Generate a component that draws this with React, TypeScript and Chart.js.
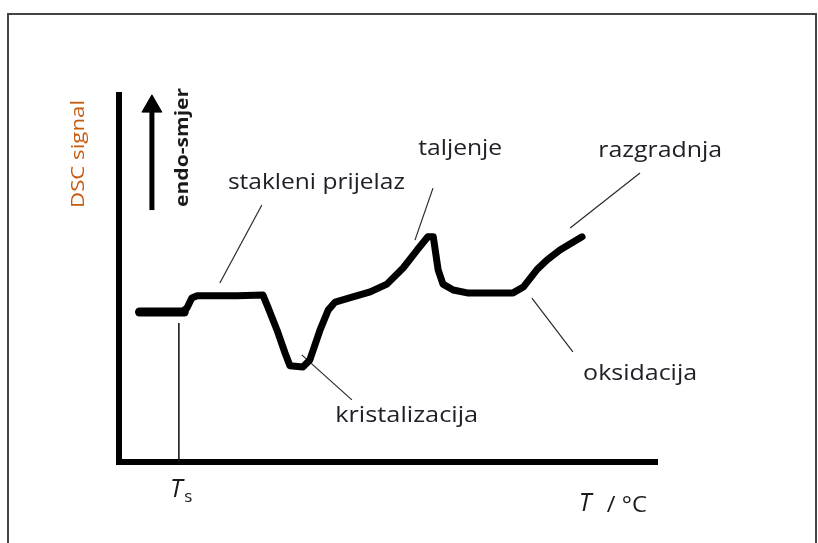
import React, { useEffect, useRef } from "react";
import { Chart, registerables } from "chart.js";

Chart.register(...registerables);

// DSC curve (arbitrary temperature units vs. arbitrary signal units)
const baselineTemperature = [3.9, 12.2];
const baselineSignal = [40.8, 40.8];

const curveTemperature = [
  11.8, 12.7, 13.6, 14.6, 22.0, 26.8, 27.7, 29.4, 30.9, 31.8, 34.2, 35.5, 37.4,
  38.9, 40.2, 43.5, 46.7, 49.8, 52.8, 55.4, 57.4, 58.4, 59.3, 60.2, 62.1, 64.7,
  73.2, 75.1, 77.6, 79.5, 81.9, 86.0,
];
const curveSignal = [
  40.8, 41.9, 44.6, 45.2, 45.2, 45.4, 42.2, 35.9, 29.6, 26.1, 25.8, 27.7, 35.9,
  41.3, 43.5, 44.9, 46.3, 48.4, 52.8, 57.7, 61.3, 61.3, 52.3, 48.4, 46.8, 46.0,
  46.0, 47.6, 52.3, 55.0, 57.7, 61.3,
];

// T_s marker
const tsTemperature = [11.2, 11.2];
const tsSignal = [37.8, 0];

// endo direction arrow
const arrowTemperature = [6.2, 6.2];
const arrowSignal = [68.6, 96.9];

// leader lines: [x1, x2], [y1, y2]
const leaderStaklenT = [26.6, 18.8];
const leaderStaklenS = [70.0, 48.7];
const leaderTaljenjeT = [58.35, 55.0];
const leaderTaljenjeS = [74.6, 60.4];
const leaderRazgradnjaT = [96.75, 83.8];
const leaderRazgradnjaS = [78.7, 63.7];
const leaderOksidacijaT = [76.7, 84.3];
const leaderOksidacijaS = [44.6, 29.9];
const leaderKristalT = [34.0, 43.3];
const leaderKristalS = [29.1, 16.8];

// annotation texts
const labelTexts = ["stakleni prijelaz", "taljenje", "razgradnja", "oksidacija", "kristalizacija"];
const labelTemperature = [20.3, 55.6, 89.0, 86.2, 40.2];
const labelSignal = [74.35, 83.6, 83.1, 22.2, 10.8];
const labelWidths = [177, 84, 124, 114, 143];

const yAxisTitle = "DSC signal";
const arrowTitle = "endo-smjer";
const tsSymbol = ["T", "s"];
const xAxisTitle = ["T", "/ °C"];

const zip = (xs: number[], ys: number[]) => xs.map((x, i) => ({ x, y: ys[i] }));

function fittedText(
  ctx: CanvasRenderingContext2D,
  text: string,
  x: number,
  y: number,
  font: string,
  width: number | null,
  color: string,
  rotate = false
) {
  ctx.save();
  ctx.font = font;
  ctx.fillStyle = color;
  const w = ctx.measureText(text).width;
  const sx = width ? width / w : 1;
  ctx.translate(x, y);
  if (rotate) {
    ctx.rotate(-Math.PI / 2);
    ctx.textAlign = "center";
    ctx.textBaseline = "middle";
  } else {
    ctx.textAlign = "left";
    ctx.textBaseline = "alphabetic";
  }
  ctx.scale(sx, 1);
  ctx.fillText(text, 0, 0);
  ctx.restore();
}

const decorPlugin = {
  id: "dscDecor",
  beforeDraw(chart: any) {
    const { ctx, width, height } = chart;
    ctx.save();
    ctx.fillStyle = "#ffffff";
    ctx.fillRect(0, 0, width, height);
    ctx.strokeStyle = "#444444";
    ctx.lineWidth = 2;
    ctx.strokeRect(8, 14, width - 10, height + 20);
    ctx.restore();
  },
  afterDraw(chart: any) {
    const { ctx } = chart;
    const xs = chart.scales.x;
    const ys = chart.scales.y;
    const px = (v: number) => xs.getPixelForValue(v);
    const py = (v: number) => ys.getPixelForValue(v);
    const textColor = "#202028";
    const font = "22px 'Open Sans', sans-serif";
    labelTexts.forEach((t, i) => {
      fittedText(ctx, t, px(labelTemperature[i]), py(labelSignal[i]), font, labelWidths[i], textColor);
    });
    // rotated axis texts
    fittedText(ctx, yAxisTitle, px(-7.3), py(83.9), "18px 'Open Sans', sans-serif", 108, "#c55a11", true);
    fittedText(ctx, arrowTitle, px(11.97), py(85.7), "bold 17px 'Open Sans', sans-serif", 119, "#1a1a1a", true);
    // T_s
    fittedText(ctx, tsSymbol[0], px(9.55), py(-9.7), "italic 25px 'Open Sans', sans-serif", null, "#1a1a1a");
    fittedText(ctx, tsSymbol[1], px(12.2), py(-11.0), "17px 'Open Sans', sans-serif", null, "#1a1a1a");
    // T / °C
    fittedText(ctx, xAxisTitle[0], px(85.4), py(-13.5), "italic 25px 'Open Sans', sans-serif", null, "#1a1a1a");
    fittedText(ctx, xAxisTitle[1], px(90.6), py(-13.8), "21px 'Open Sans', sans-serif", 40, "#1a1a1a");
  },
};

const thin = (xs: number[], ys: number[]) => ({
  data: zip(xs, ys),
  showLine: true,
  borderColor: "#2a2a2a",
  borderWidth: 1.2,
  pointRadius: 0,
  clip: false as any,
});

export default function App() {
  const ref = useRef<HTMLCanvasElement>(null);
  useEffect(() => {
    if (!ref.current) return;
    const chart = new Chart(ref.current, {
      type: "scatter",
      data: {
        datasets: [
          {
            data: zip(curveTemperature, curveSignal),
            showLine: true,
            borderColor: "#000000",
            borderWidth: 7,
            borderJoinStyle: "round",
            borderCapStyle: "round",
            pointRadius: 0,
            clip: false as any,
          },
          {
            data: zip(baselineTemperature, baselineSignal),
            showLine: true,
            borderColor: "#000000",
            borderWidth: 9,
            borderCapStyle: "round",
            pointRadius: 0,
            clip: false as any,
          },
          {
            data: zip(arrowTemperature, arrowSignal),
            showLine: true,
            borderColor: "#000000",
            backgroundColor: "#000000",
            borderWidth: 5,
            pointStyle: "triangle",
            pointRadius: [0, 11.5],
            pointBorderWidth: 1,
            clip: false as any,
          },
          { ...thin(tsTemperature, tsSignal), borderWidth: 1.6, borderColor: "#1a1a1a" },
          thin(leaderStaklenT, leaderStaklenS),
          thin(leaderTaljenjeT, leaderTaljenjeS),
          thin(leaderRazgradnjaT, leaderRazgradnjaS),
          thin(leaderOksidacijaT, leaderOksidacijaS),
          thin(leaderKristalT, leaderKristalS),
        ] as any,
      },
      options: {
        responsive: false,
        animation: false,
        layout: { padding: { left: 118.5, right: 160.5, top: 95, bottom: 81.5 } },
        plugins: { legend: { display: false }, tooltip: { enabled: false } },
        scales: {
          x: {
            type: "linear",
            min: 0,
            max: 100,
            ticks: { display: false },
            grid: { display: false, drawTicks: false },
            border: { display: true, width: 6, color: "#000000" },
          },
          y: {
            type: "linear",
            min: 0,
            max: 100,
            ticks: { display: false },
            grid: { display: false, drawTicks: false },
            border: { display: true, width: 6, color: "#000000" },
          },
        },
      },
      plugins: [decorPlugin],
    });
    return () => chart.destroy();
  }, []);
  return (
    <div style={{ position: "fixed", left: 0, top: 0, width: 818, height: 543, background: "#fff" }}>
      <canvas ref={ref} width={818} height={543} style={{ display: "block", width: 818, height: 543 }} />
    </div>
  );
}
